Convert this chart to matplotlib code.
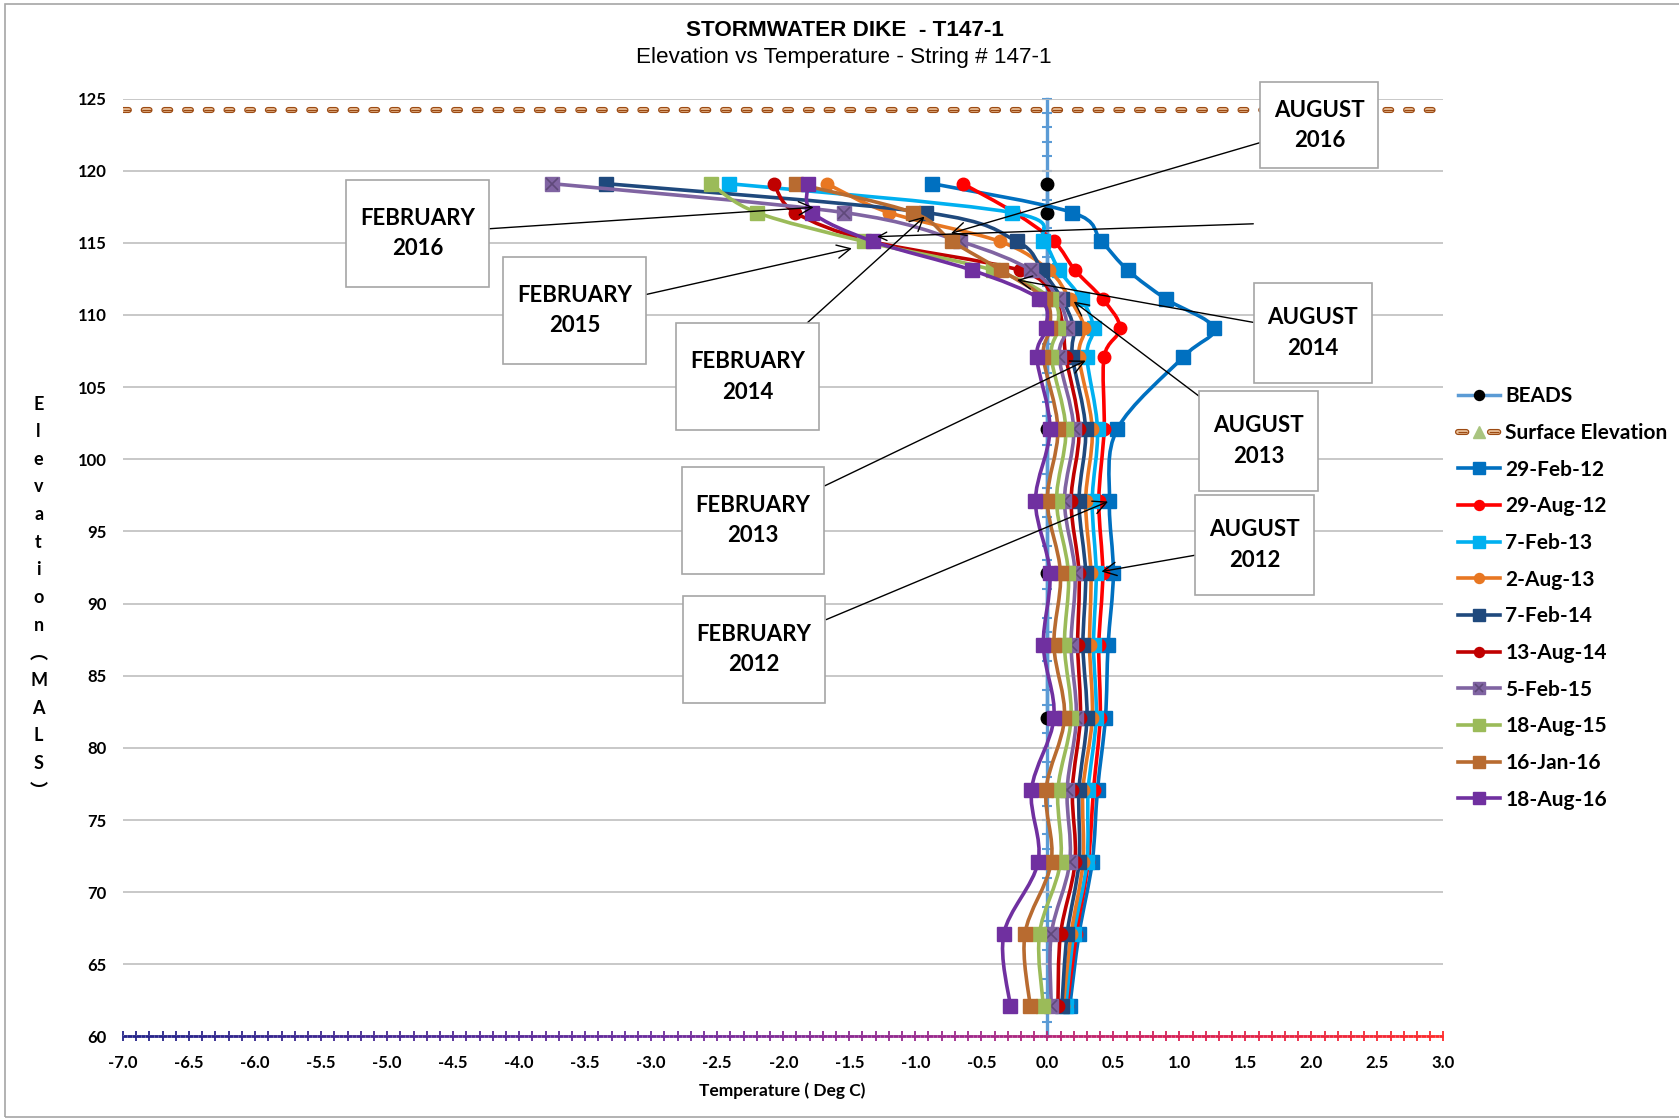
import matplotlib
matplotlib.use('Agg')
import matplotlib.pyplot as plt
import numpy as np
from matplotlib.path import Path
import matplotlib.patches as mpatches
from matplotlib.lines import Line2D
from matplotlib.collections import LineCollection
from matplotlib.colors import LinearSegmentedColormap
from matplotlib.legend_handler import HandlerTuple
from matplotlib.ticker import MultipleLocator

plt.rcParams['lines.scale_dashes'] = False
plt.rcParams['font.family'] = ['Lato', 'DejaVu Sans']

# elevation of each thermistor bead (m ASL)
elev = [119.1, 117.1, 115.1, 113.1, 111.1, 109.1, 107.1, 102.1,
        97.1, 92.1, 87.1, 82.1, 77.1, 72.1, 67.1, 62.1]

feb12 = [-0.87, 0.19, 0.41, 0.61, 0.90, 1.26, 1.03, 0.53, 0.47, 0.50, 0.46, 0.44, 0.38, 0.34, 0.24, 0.17]
aug12 = [-0.64, -0.25, 0.05, 0.21, 0.42, 0.55, 0.43, 0.43, 0.39, 0.42, 0.39, 0.40, 0.35, 0.31, 0.22, 0.15]
feb13 = [-2.41, -0.27, -0.03, 0.09, 0.26, 0.35, 0.30, 0.38, 0.34, 0.37, 0.35, 0.37, 0.31, 0.30, 0.20, 0.14]
aug13 = [-1.67, -1.20, -0.36, 0.01, 0.17, 0.28, 0.24, 0.34, 0.29, 0.33, 0.32, 0.34, 0.27, 0.27, 0.18, 0.12]
feb14 = [-3.34, -0.92, -0.23, -0.04, 0.11, 0.20, 0.19, 0.29, 0.24, 0.29, 0.27, 0.30, 0.24, 0.24, 0.15, 0.11]
aug14 = [-2.07, -1.91, -1.33, -0.21, 0.05, 0.12, 0.14, 0.24, 0.18, 0.24, 0.23, 0.25, 0.19, 0.21, 0.10, 0.08]
feb15 = [-3.75, -1.54, -0.66, -0.12, 0.08, 0.15, 0.09, 0.20, 0.13, 0.21, 0.18, 0.22, 0.15, 0.17, 0.03, 0.03]
aug15 = [-2.55, -2.20, -1.39, -0.41, 0.03, 0.08, 0.03, 0.14, 0.07, 0.16, 0.13, 0.18, 0.08, 0.10, -0.06, -0.03]
jan16 = [-1.90, -1.02, -0.72, -0.35, -0.02, 0.02, -0.03, 0.08, 0.00, 0.10, 0.05, 0.13, -0.01, 0.03, -0.17, -0.13]
aug16 = [-1.81, -1.78, -1.32, -0.57, -0.06, -0.01, -0.08, 0.02, -0.09, 0.02, -0.03, 0.05, -0.12, -0.07, -0.33, -0.28]

dates = ['29-Feb-12', '29-Aug-12', '7-Feb-13', '2-Aug-13', '7-Feb-14',
         '13-Aug-14', '5-Feb-15', '18-Aug-15', '16-Jan-16', '18-Aug-16']
colors = ['#0070C0', '#FF0000', '#00B0F0', '#E87722', '#1F497D',
          '#C00000', '#8064A2', '#9BBB59', '#B86B30', '#7030A0']
markers = ['s', 'o', 's', 'o', 's', 'o', 'X', 's', 's', 's']

bead_elev = [119.1, 117.1, 102.1, 92.1, 82.1]
bead_temp = [0.0, 0.0, 0.0, 0.0, 0.0]

surface_x = [-7.0, 3.0]
surface_elev = [124.2, 124.2]

# callouts: text, box centre, arrow tip, vertical box padding
callouts = [
    ('FEBRUARY\n2016', (-4.77, 115.65), (-1.77, 117.46), 1.25),
    ('FEBRUARY\n2015', (-3.58, 110.31), (-1.48, 114.62), 1.25),
    ('FEBRUARY\n2014', (-2.27, 105.71), (-0.93, 116.82), 1.25),
    ('FEBRUARY\n2013', (-2.23, 95.77), (0.29, 106.84), 1.25),
    ('FEBRUARY\n2012', (-2.22, 86.80), (0.46, 97.07), 1.25),
    ('AUGUST\n2016', (2.06, 123.15), (-0.73, 115.66), 0.78),
    ('AUGUST\n2014', (2.01, 108.75), (-0.23, 112.43), 1.1),
    ('AUGUST\n2013', (1.60, 101.26), (0.20, 110.93), 1.1),
    ('AUGUST\n2012', (1.57, 94.07), (0.41, 92.22), 1.1),
]


def smooth_path(x, y):
    # excel style smoothed line as bezier segments
    pts = np.column_stack([x, y])
    n = len(pts)
    verts = [pts[0]]
    codes = [Path.MOVETO]
    for i in range(n - 1):
        p0 = pts[i - 1] if i > 0 else pts[i]
        p1 = pts[i]
        p2 = pts[i + 1]
        p3 = pts[i + 2] if i + 2 < n else pts[i + 1]
        verts += [p1 + (p2 - p0) / 6, p2 - (p3 - p1) / 6, p2]
        codes += [Path.CURVE4] * 3
    return Path(verts, codes)


def make_box(px, py):
    def box(x0, y0, width, height, mutation_size):
        dx = px * mutation_size
        dy = py * mutation_size
        xa, ya = x0 - dx, y0 - dy
        xb, yb = x0 + width + dx, y0 + height + dy
        return Path([(xa, ya), (xb, ya), (xb, yb), (xa, yb), (xa, ya)], closed=True)
    return box


fig = plt.figure(figsize=(16.79, 11.2), dpi=100)
ax = fig.add_axes([0.0733, 0.0746, 0.7864, 0.8374])
ax.set_xlim(-7, 3)
ax.set_ylim(60, 125)

yt = np.arange(60, 126, 5)
ax.set_yticks(yt, [str(v) for v in yt], fontweight='bold')
xt = np.arange(-7, 3.01, 0.5)
ax.set_xticks(xt, ['%.1f' % v for v in xt], fontweight='bold')
ax.xaxis.set_minor_locator(MultipleLocator(0.1))
ax.grid(axis='y', color='#BFBFBF', lw=1.2)
ax.set_axisbelow(True)
for s in ax.spines.values():
    s.set_visible(False)
ax.tick_params(axis='y', length=0, pad=12, labelsize=12)
ax.tick_params(axis='x', which='both', direction='inout', length=7, width=1.3,
               pad=10, labelsize=12)

# gradient bottom axis
cmap = LinearSegmentedColormap.from_list(
    'axis', [(0, '#23238A'), (0.4, '#6B2B9E'), (0.65, '#A3288A'),
             (0.8, '#D91F55'), (1, '#FF2A2A')])
gx = np.linspace(-7, 3, 301)
segs = [[(gx[i], 60), (gx[i + 1], 60)] for i in range(len(gx) - 1)]
lc = LineCollection(segs, colors=cmap(np.linspace(0, 1, len(segs))), lw=2,
                    clip_on=False, zorder=3)
ax.add_collection(lc)

# vertical axis crossing at 0
sec = ax.secondary_yaxis(0.7)
sec.set_yticks(yt)
sec.yaxis.set_minor_locator(MultipleLocator(1))
sec.tick_params(axis='y', which='both', direction='inout', length=7, width=1.5,
                color='#5B9BD5', labelleft=False, labelright=False)
for s in sec.spines.values():
    s.set_color('#5B9BD5')
    s.set_linewidth(2.4)

# surface elevation line
ax.plot(surface_x, surface_elev, color='#9C4A12', lw=4.4,
        ls=(0, (4.2, 10.7)), dash_capstyle='round', zorder=4)
ax.plot(surface_x, surface_elev, color='#EDC49E', lw=2.6,
        ls=(0, (4.2, 10.7)), dash_capstyle='round', zorder=4)
ax.plot(surface_x, surface_elev, color='#9C4A12', lw=0.9,
        ls=(1.4, (7, 7.9)), dash_capstyle='butt', zorder=4)

# beads
ax.plot(bead_temp, bead_elev, color='#5B9BD5', lw=2.5, marker='o',
        mfc='black', mec='black', ms=9, zorder=5)

handles = [Line2D([], [], color='#5B9BD5', lw=2.5, marker='o', mfc='black',
                  mec='black', ms=9)]
handles.append((
    Line2D([], [], color='#9C4A12', lw=4.4, ls=(0, (6, 17)), dash_capstyle='round'),
    Line2D([], [], color='#EDC49E', lw=2.6, ls=(0, (6, 17)), dash_capstyle='round'),
    Line2D([], [], color='#9C4A12', lw=0.9, ls=(0.5, (7, 16)), dash_capstyle='butt'),
    Line2D([], [], ls='none', marker='^', color='#A9C47F', ms=11),
))

series = [feb12, aug12, feb13, aug13, feb14, aug14, feb15, aug15, jan16, aug16]
for k, (temps, lab, col, mk) in enumerate(zip(series, dates, colors, markers)):
    z = 6 + k * 0.1
    ax.add_patch(mpatches.PathPatch(smooth_path(temps, elev), fill=False,
                                    edgecolor=col, lw=2.6, capstyle='round',
                                    joinstyle='round', zorder=z))
    if mk == 'X':
        ax.plot(temps, elev, ls='none', marker='s', color=col, ms=10, zorder=z)
        ax.plot(temps, elev, ls='none', marker='x', color='#5F497A', ms=8,
                mew=1.2, zorder=z)
        handles.append((Line2D([], [], color=col, lw=2.6, marker='s', ms=10),
                        Line2D([], [], ls='none', marker='x', color='#5F497A',
                               ms=8, mew=1.2)))
    else:
        ms = 10 if mk == 's' else 9
        ax.plot(temps, elev, ls='none', marker=mk, color=col, ms=ms, zorder=z)
        handles.append(Line2D([], [], color=col, lw=2.6, marker=mk, ms=ms))

labels = ['BEADS', 'Surface Elevation'] + dates
fig.legend(handles, labels, loc='upper left', bbox_to_anchor=(0.8686, 0.655),
           frameon=False, borderpad=0, borderaxespad=0, handletextpad=0.25,
           handlelength=2.0, labelspacing=0.80, markerscale=0.8,
           prop={'family': 'Lato', 'weight': 'bold', 'size': 15},
           handler_map={tuple: HandlerTuple(ndivide=1)})

# callout boxes
for txt, box, tip, pady in callouts:
    ax.annotate(txt, xy=tip, xytext=box, ha='center', va='center',
                fontsize=16, fontweight='bold', linespacing=1.55,
                bbox=dict(boxstyle=make_box(0.62, pady), fc='white',
                          ec='#A6A6A6', lw=1.2),
                arrowprops=dict(arrowstyle='->,head_length=0.6,head_width=0.3',
                                color='black', lw=1, shrinkA=0, shrinkB=0),
                zorder=10, annotation_clip=False)
ax.annotate('', xy=(-1.29, 115.43), xytext=(1.56, 116.32),
            arrowprops=dict(arrowstyle='->,head_length=0.6,head_width=0.3',
                            color='black', lw=1, shrinkA=0, shrinkB=0),
            zorder=10, annotation_clip=False)

fig.text(0.503, 0.973, 'STORMWATER DIKE  - T147-1', ha='center', va='center',
         fontsize=16.2, fontweight='bold', family='Liberation Sans')
fig.text(0.5025, 0.949, 'Elevation vs Temperature - String # 147-1',
         ha='center', va='center', fontsize=16.2, family='Liberation Sans')
fig.text(0.4656, 0.026, 'Temperature ( Deg C)', ha='center', va='center',
         fontsize=12.5, fontweight='bold')
ylab = '\n'.join(list('Elevation') + ['\ufe35', 'M', 'A', 'L', 'S', '\ufe36'])
fig.text(0.023, 0.4665, ylab, ha='center', va='center', fontsize=13,
         fontweight='bold', linespacing=1.76,
         family=['Lato', 'Noto Sans CJK SC'])

fig.add_artist(mpatches.Rectangle((0.003, 0.003), 1.0, 0.993,
                                  transform=fig.transFigure, fill=False,
                                  ec='#A6A6A6', lw=1.2))

# colour the x ticks along the gradient
fig.canvas.draw()
for t in ax.xaxis.get_major_ticks() + ax.xaxis.get_minor_ticks():
    t.tick1line.set_markeredgecolor(cmap(np.clip((t.get_loc() + 7) / 10, 0, 1)))

fig.savefig('out.png', dpi=100)
